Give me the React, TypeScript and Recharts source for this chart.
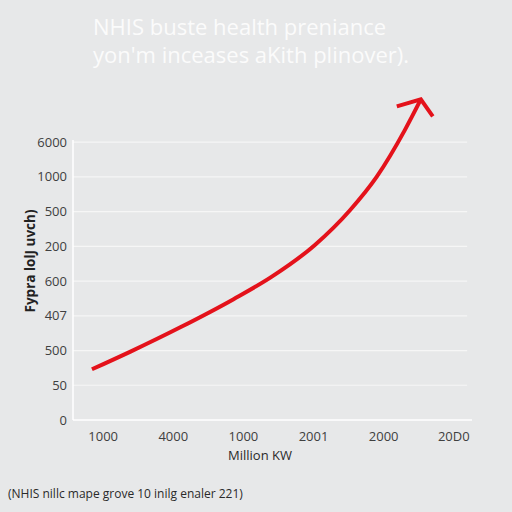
import React from "react";
import { LineChart, Line, XAxis, YAxis, ReferenceLine } from "recharts";

const xTickLabels = ["1000", "4000", "1000", "2001", "2000", "20D0"];
const yTickLabels = ["0", "50", "500", "407", "600", "200", "500", "1000", "6000"];
const curveX = [-0.16, 0.39, 1.1, 1.86, 2.4, 3.02, 3.52, 3.9, 4.3, 4.53];
const curveY = [1.46, 1.97, 2.67, 3.48, 4.12, 5.04, 6.04, 7.0, 8.34, 9.23];

const titleLines = ["NHIS buste health preniance", "yon'm inceases aKith plinover)."];
const yAxisTitle = "Fypra lolJ uvch)";
const xAxisTitle = "Million KW";
const footnote = "(NHIS nillc mape grove 10 inilg enaler 221)";

const data = curveX.map((x, i) => ({ x, y: curveY[i] }));
const gridValues = [1, 2, 3, 4, 5, 6, 7, 8];

const RED = "#e4121b";
const FONT = "'Open Sans', 'Noto Sans', sans-serif";
const X_MIN = -0.43;
const X_MAX = 5.26;

const ArrowDot = (props: any) => {
  const { cx, cy, index } = props;
  if (index !== data.length - 1 || cx == null) return <g key={index} />;
  return (
    <path
      key={index}
      d={`M ${cx - 24} ${cy + 7} L ${cx} ${cy} L ${cx + 12} ${cy + 17}`}
      fill="none"
      stroke={RED}
      strokeWidth={4}
      strokeLinecap="butt"
      strokeLinejoin="miter"
    />
  );
};

export default function App() {
  return (
    <div
      style={{
        position: "fixed",
        left: 0,
        top: 0,
        width: 512,
        height: 512,
        background: "#e7e8e9",
        fontFamily: FONT,
        overflow: "hidden",
      }}
    >
      <div
        style={{
          position: "absolute",
          left: 93,
          top: 12,
          color: "#fbfbfb",
          fontSize: 22,
          lineHeight: "28px",
          whiteSpace: "nowrap",
        }}
      >
        {titleLines.map((t) => (
          <div key={t}>{t}</div>
        ))}
      </div>
      <LineChart
        width={512}
        height={512}
        data={data}
        margin={{ top: 97, right: 40, bottom: 62, left: 0 }}
      >
        {gridValues.map((v) => (
          <ReferenceLine
            key={v}
            segment={[
              { x: X_MIN, y: v },
              { x: X_MAX - 0.07, y: v },
            ]}
            stroke="#f6f6f6"
            strokeWidth={1.2}
          />
        ))}
        <XAxis
          type="number"
          dataKey="x"
          domain={[X_MIN, X_MAX]}
          ticks={[0, 1, 2, 3, 4, 5]}
          tickFormatter={(v: number) => xTickLabels[v] ?? ""}
          axisLine={{ stroke: "#ffffff", strokeWidth: 1.5 }}
          tickLine={false}
          tickSize={0}
          tickMargin={12}
          height={30}
          tick={{ fill: "#404040", fontSize: 13, fontFamily: FONT }}
          allowDataOverflow
        />
        <YAxis
          type="number"
          dataKey="y"
          domain={[0, 9.3]}
          ticks={[0, 1, 2, 3, 4, 5, 6, 7, 8]}
          tickFormatter={(v: number) => yTickLabels[v] ?? ""}
          axisLine={false}
          tickLine={false}
          tickSize={0}
          tickMargin={6}
          width={73}
          tick={{ fill: "#404040", fontSize: 13, fontFamily: FONT }}
          allowDataOverflow
        />
        <ReferenceLine
          segment={[
            { x: X_MIN, y: 0 },
            { x: X_MIN, y: 8.06 },
          ]}
          stroke="#ffffff"
          strokeWidth={1.5}
        />
        <Line
          type="monotone"
          dataKey="y"
          stroke={RED}
          strokeWidth={4}
          dot={ArrowDot}
          activeDot={false}
          isAnimationActive={false}
        />
      </LineChart>
      <div
        style={{
          position: "absolute",
          left: 30,
          top: 261,
          transform: "translate(-50%, -50%) rotate(-90deg)",
          fontSize: 13.5,
          fontWeight: 700,
          color: "#222",
          whiteSpace: "nowrap",
        }}
      >
        {yAxisTitle}
      </div>
      <div
        style={{
          position: "absolute",
          left: 260,
          top: 455,
          transform: "translate(-50%, -50%)",
          fontSize: 13,
          color: "#2a2a2a",
          whiteSpace: "nowrap",
        }}
      >
        {xAxisTitle}
      </div>
      <div
        style={{
          position: "absolute",
          left: 8,
          top: 493,
          transform: "translateY(-50%)",
          fontSize: 12,
          color: "#2a2a2a",
          whiteSpace: "nowrap",
        }}
      >
        {footnote}
      </div>
    </div>
  );
}
